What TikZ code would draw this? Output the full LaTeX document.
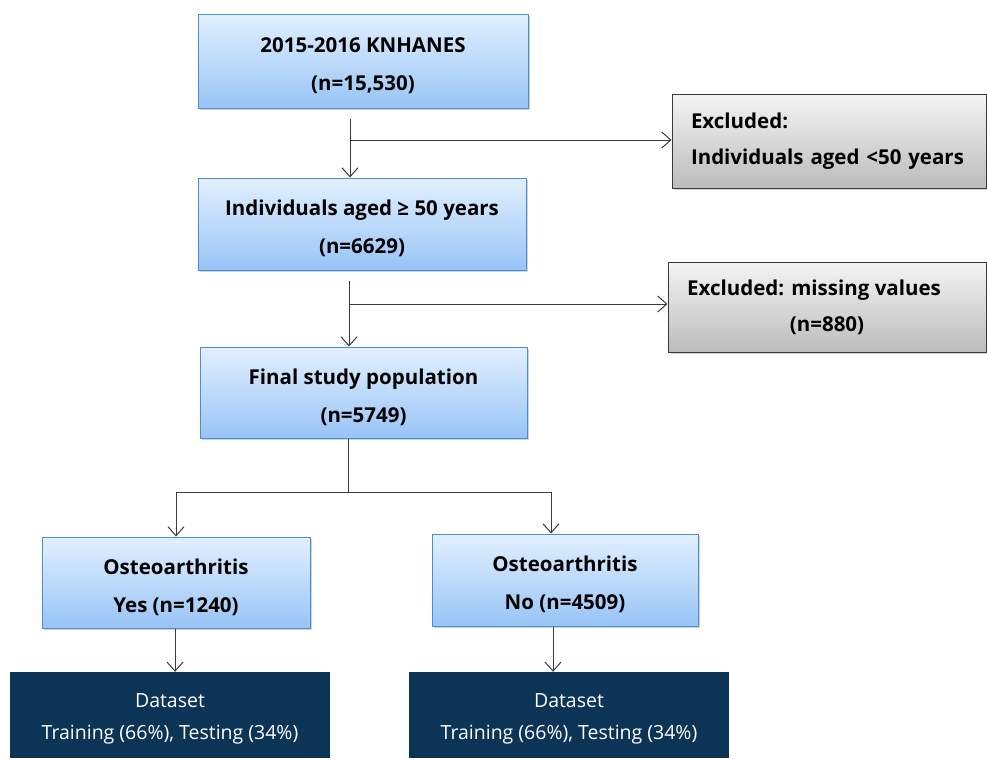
\documentclass[tikz,border=0pt]{standalone}
\usepackage{fontspec}
\setmainfont{Open Sans}
\usetikzlibrary{arrows.meta,positioning,shadows}

\definecolor{bluetop}{HTML}{E2F0FF}
\definecolor{bluebot}{HTML}{98C4F6}
\definecolor{blueedge}{HTML}{4A8ED2}
\definecolor{greytop}{HTML}{F4F4F4}
\definecolor{greybot}{HTML}{BCBCBC}
\definecolor{greyedge}{HTML}{3A3A3A}
\definecolor{navy}{HTML}{0C3457}
\definecolor{linegrey}{HTML}{3C3C3C}

\tikzset{
  bluebox/.style={draw=blueedge, line width=1pt, top color=bluetop, bottom color=bluebot,
    align=center, inner sep=0pt, text height=63pt, font=\bfseries\fontsize{20.5}{38}\selectfont,
    drop shadow={shadow xshift=2pt, shadow yshift=-2pt, opacity=0.35}},
  greybox/.style={draw=greyedge, line width=1pt, top color=greytop, bottom color=greybot,
    inner sep=0pt, font=\bfseries\fontsize{20.5}{36}\selectfont,
    drop shadow={shadow xshift=2pt, shadow yshift=-2pt, opacity=0.35}},
  databox/.style={fill=navy, text=white, align=center, inner sep=0pt,
    text height=54pt, font=\fontsize{19.5}{32}\selectfont},
  arr/.style={draw=linegrey, line width=1pt, -{Straight Barb[length=9pt, width=16pt]}},
  plain/.style={draw=linegrey, line width=1pt}
}

\begin{document}
\begin{tikzpicture}[x=1pt, y=-1pt]
  \useasboundingbox (0,0) rectangle (987,758);

  % Main boxes
  \node[bluebox, minimum width=330, minimum height=94] (knhanes) at (363,61)
    {2015-2016 KNHANES\\(n=15,530)};
  \node[bluebox, minimum width=328, minimum height=92] (aged) at (362,224)
    {Individuals aged ≥ 50 years\\(n=6629)};
  \node[bluebox, minimum width=327, minimum height=91] (final) at (363.5,392.5)
    {Final study population\\(n=5749)};
  \node[bluebox, minimum width=268, minimum height=91] (oayes) at (176,582.5)
    {Osteoarthritis\\Yes (n=1240)};
  \node[bluebox, minimum width=266, minimum height=92] (oano) at (565,580)
    {Osteoarthritis\\No (n=4509)};

  % Excluded boxes
  \node[greybox, minimum width=314, minimum height=94, align=left, text width=276]
    (excl1) at (829,141) {Excluded:\\Individuals aged <50 years};
  \node[greybox, minimum width=318, minimum height=90, align=center]
    (excl2) at (827,307) {Excluded: missing values\hspace*{26pt}\\(n=880)};

  % Dataset boxes
  \node[databox, minimum width=320, minimum height=86] (dsyes) at (170,715)
    {Dataset\\Training (66\%), Testing (34\%)};
  \node[databox, minimum width=320, minimum height=86] (dsno) at (569,715)
    {Dataset\\Training (66\%), Testing (34\%)};

  % Junctions
  \coordinate (j1) at (350,140);
  \coordinate (j2) at (349,304);
  \coordinate (j3) at (348,492);

  % Connectors
  \draw[arr] ([yshift=-10pt]knhanes.south -| j1) -- (aged.north -| j1);
  \draw[arr] (j1) -- (excl1.west |- j1);
  \draw[arr] ([yshift=-10pt]aged.south -| j2) -- (final.north -| j2);
  \draw[arr] (j2) -- (excl2.west |- j2);
  \draw[plain] (final.south -| j3) -- (j3);
  \draw[arr] (j3) -| (oayes.north);
  \draw[arr] (j3) -| ([xshift=-14pt]oano.north);
  \draw[arr] ([xshift=-1pt]oayes.south) -- ([xshift=-1pt]oayes.south |- dsyes.north);
  \draw[arr] ([xshift=-12pt]oano.south) -- ([xshift=-12pt]oano.south |- dsno.north);
\end{tikzpicture}
\end{document}
